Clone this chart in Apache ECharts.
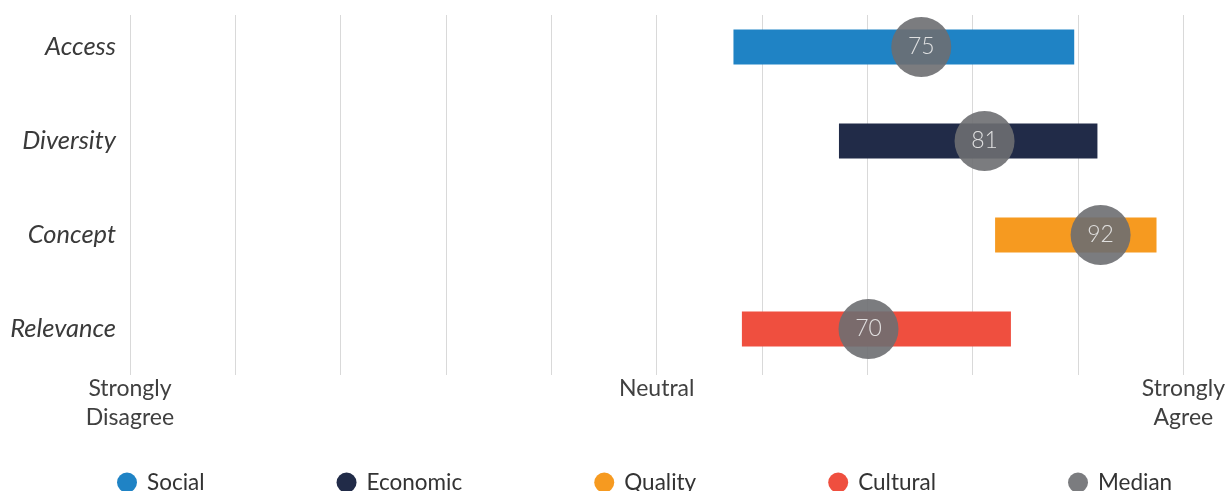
<!DOCTYPE html>
<html><head><meta charset="utf-8">
<script src="https://cdn.jsdelivr.net/npm/echarts@6/dist/echarts.min.js"></script>
<style>html,body{margin:0;padding:0;background:#fff}#c{width:1228px;height:491px}</style>
</head><body><div id="c"></div>
<script>
const categories = ['Access', 'Diversity', 'Concept', 'Relevance'];
const seriesNames = ['Social', 'Economic', 'Quality', 'Cultural'];
const rangeStart = [57.2, 67.2, 82.0, 58.0];
const rangeEnd = [89.5, 91.7, 97.3, 83.5];
const medians = [75, 81, 92, 70];
const tickLabels = { 0: 'Strongly\nDisagree', 50: 'Neutral', 100: 'Strongly\nAgree' };
const colors = ['#1f83c5', '#212b48', '#f69a20', '#ef4f3f'];
const medianColor = '#6d6e71';

const chart = echarts.init(document.getElementById('c'));
const font = 'Lato, "Open Sans", sans-serif';

const series = [{
  name: 'base', type: 'bar', stack: 'r', xAxisIndex: 1, yAxisIndex: 1,
  data: rangeStart, barWidth: 35, silent: true,
  itemStyle: { color: 'rgba(0,0,0,0)' }
}];
seriesNames.forEach((n, i) => {
  series.push({
    name: n, type: 'bar', stack: 'r', xAxisIndex: 1, yAxisIndex: 1, barWidth: 35,
    itemStyle: { color: colors[i] },
    data: categories.map((c, j) => j === i ? +(rangeEnd[j] - rangeStart[j]).toFixed(2) : 0)
  });
});
series.push({
  name: 'Median', type: 'scatter', xAxisIndex: 1, yAxisIndex: 1, symbolSize: 60, z: 5,
  itemStyle: { color: medianColor, opacity: 0.9 },
  label: { show: true, position: 'inside', formatter: p => p.value[0], color: '#ececec',
    fontSize: 23, fontWeight: 300, fontFamily: font },
  data: medians.map((m, i) => [m, i])
});

chart.setOption({
  animation: false,
  textStyle: { fontFamily: font },
  grid: [
    { left: 130, right: 43, top: 15, bottom: 116 },
    { left: 130, right: 43, top: -1, height: 377 }
  ],
  xAxis: [
    { gridIndex: 0, type: 'value', min: 0, max: 100, interval: 10,
      axisLine: { show: false }, axisTick: { show: false },
      splitLine: { show: true, lineStyle: { color: '#d9d9d9', width: 1 } },
      axisLabel: { formatter: v => tickLabels[v] || '', fontSize: 23, lineHeight: 29, color: '#404040', margin: -1, fontFamily: font } },
    { gridIndex: 1, type: 'value', min: 0, max: 100, show: false, splitLine: { show: false } }
  ],
  yAxis: [
    { gridIndex: 0, type: 'value', show: false },
    { gridIndex: 1, type: 'category', inverse: true, data: categories,
      axisLine: { show: false }, axisTick: { show: false }, splitLine: { show: false },
      axisLabel: { fontSize: 25.5, fontStyle: 'italic', color: '#3a3a3a', margin: 14, fontFamily: font } }
  ],
  legend: {
    data: seriesNames.concat(['Median']), left: 112, top: 466, icon: 'circle',
    itemWidth: 20, itemHeight: 20, itemGap: 132,
    textStyle: { fontSize: 22.5, color: '#333', fontFamily: font, padding: [0, 0, 0, 5] }
  },
  series: series
});
</script></body></html>
